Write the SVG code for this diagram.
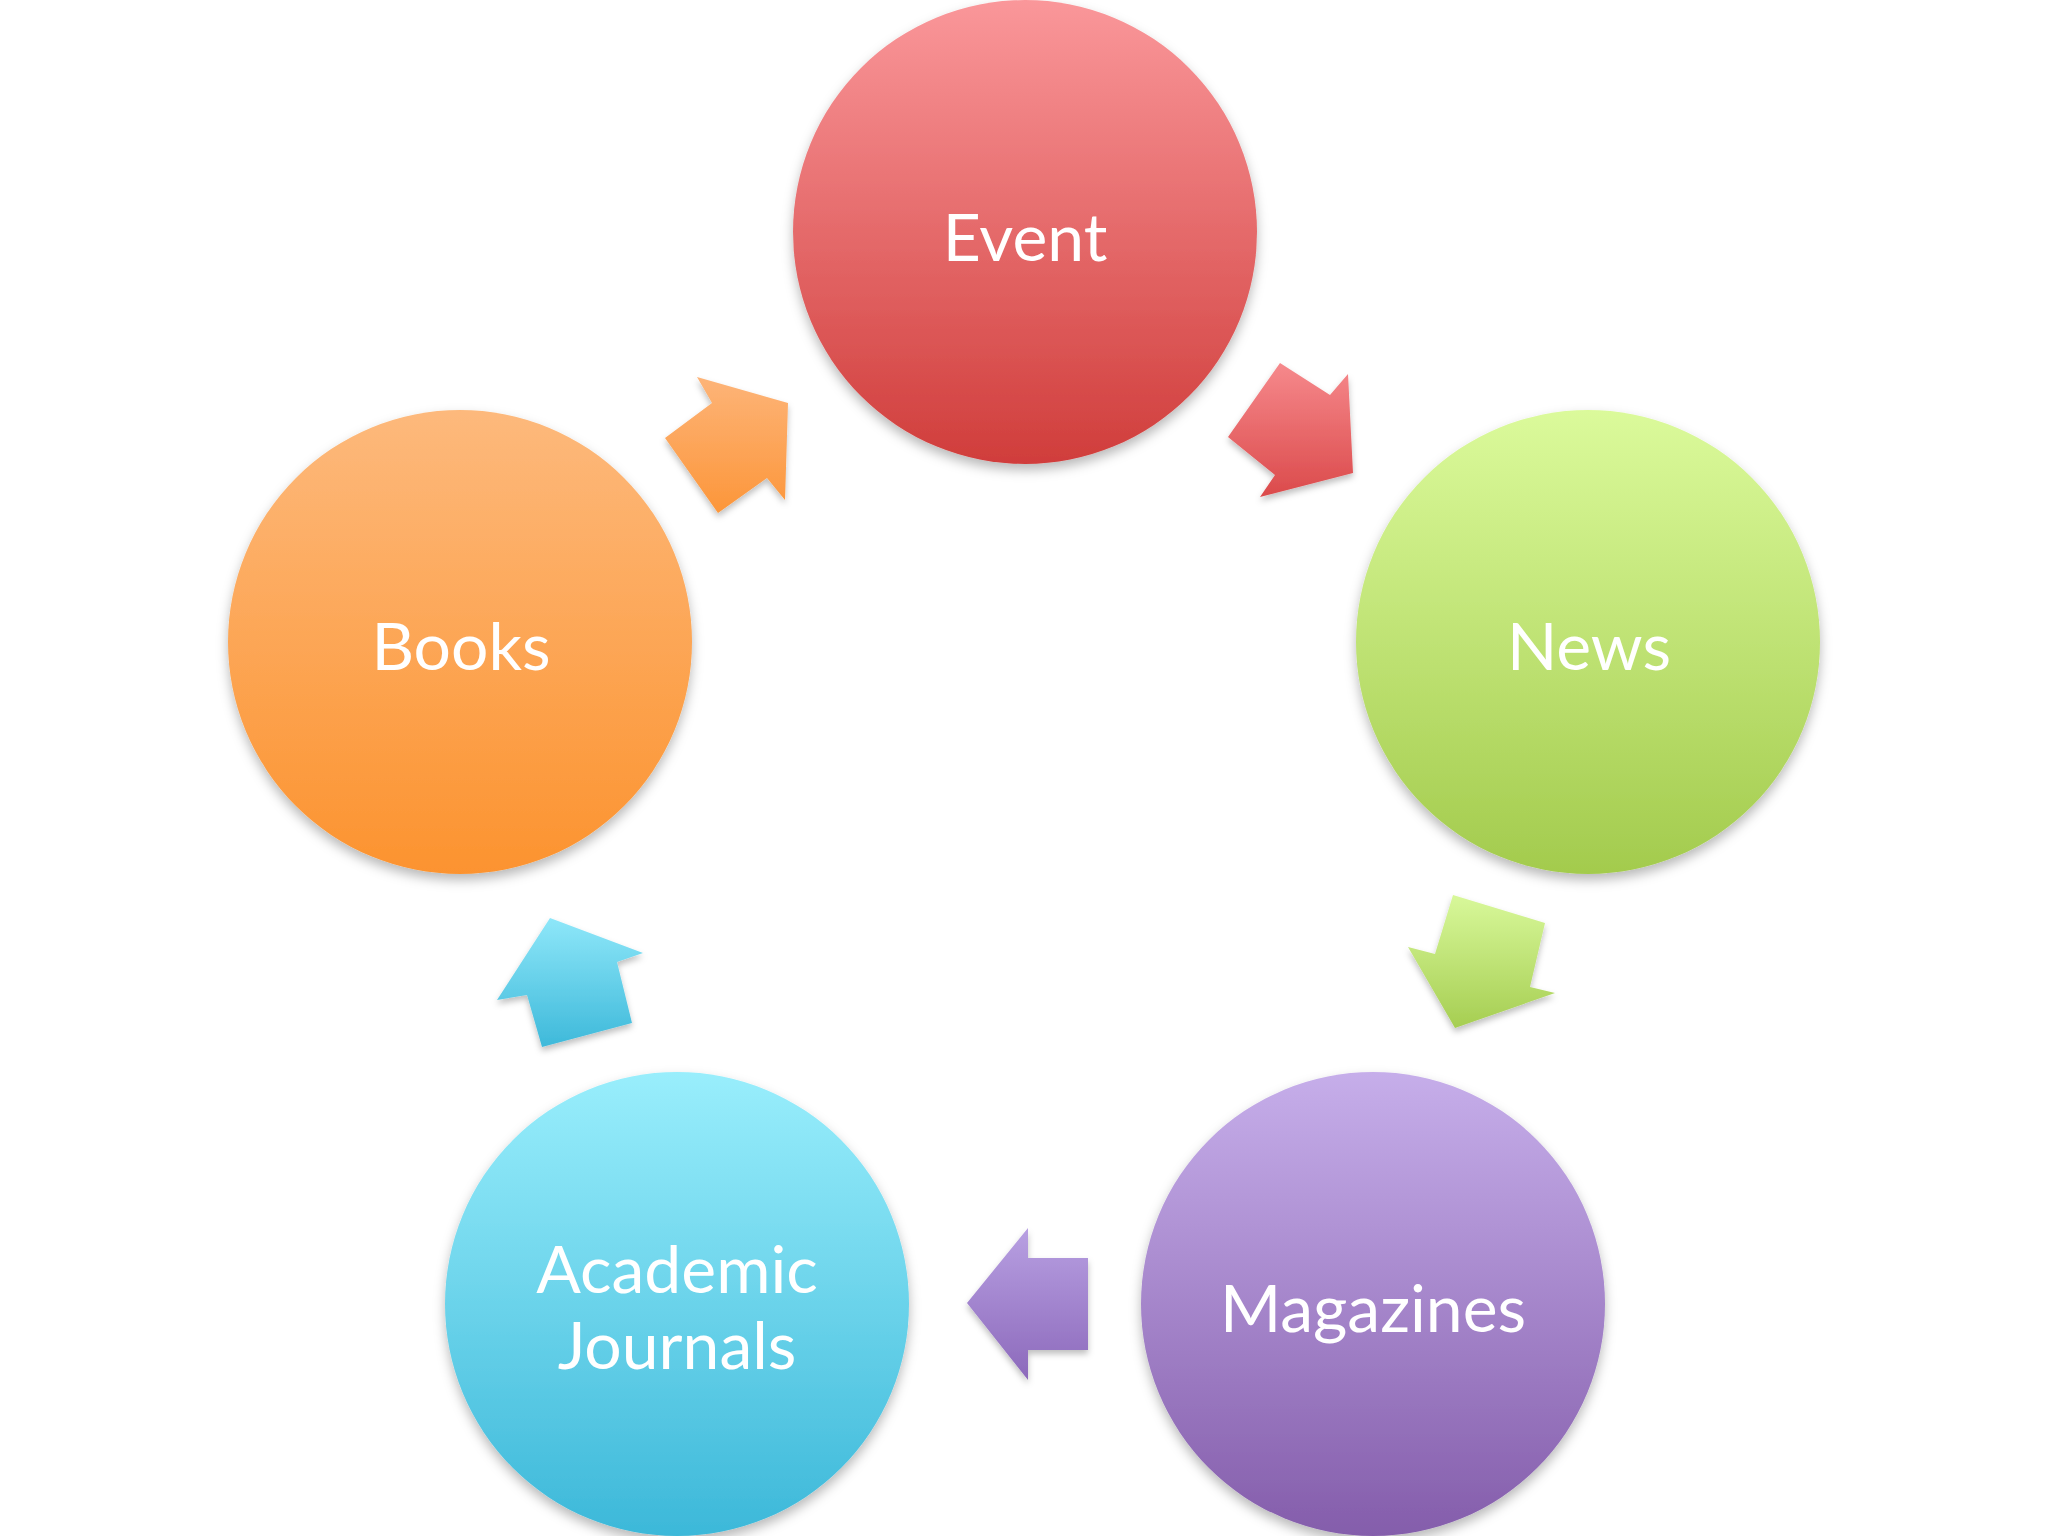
<svg xmlns="http://www.w3.org/2000/svg" width="2048" height="1536" viewBox="0 0 2048 1536">
<defs>
<style>
.lbl{font-family:Lato,"Open Sans","Liberation Sans",sans-serif;font-size:66px;fill:#ffffff;text-anchor:middle}
</style>
<filter id="sh" x="-20%" y="-20%" width="140%" height="140%">
<feDropShadow dx="0" dy="6" stdDeviation="6" flood-color="#000" flood-opacity="0.28"/>
</filter>
<filter id="sha" x="-20%" y="-20%" width="140%" height="140%">
<feDropShadow dx="0" dy="4" stdDeviation="3" flood-color="#000" flood-opacity="0.25"/>
</filter>
<linearGradient id="gRed" x1="0" y1="0" x2="0" y2="1"><stop offset="0" stop-color="#FA979A"/><stop offset="1" stop-color="#D03D3B"/></linearGradient>
<linearGradient id="gOr" x1="0" y1="0" x2="0" y2="1"><stop offset="0" stop-color="#FDB97C"/><stop offset="1" stop-color="#FC932F"/></linearGradient>
<linearGradient id="gGr" x1="0" y1="0" x2="0" y2="1"><stop offset="0" stop-color="#DBFA9B"/><stop offset="1" stop-color="#A3CB4D"/></linearGradient>
<linearGradient id="gPu" x1="0" y1="0" x2="0" y2="1"><stop offset="0" stop-color="#C6AEEA"/><stop offset="1" stop-color="#845DAB"/></linearGradient>
<linearGradient id="gCy" x1="0" y1="0" x2="0" y2="1"><stop offset="0" stop-color="#99EEFC"/><stop offset="1" stop-color="#3CB8D9"/></linearGradient>
<linearGradient id="aRed" x1="0" y1="0" x2="0" y2="1"><stop offset="0" stop-color="#F6898C"/><stop offset="1" stop-color="#DB4A4B"/></linearGradient>
<linearGradient id="aOr" x1="0" y1="0" x2="0" y2="1"><stop offset="0" stop-color="#FDB478"/><stop offset="1" stop-color="#FC963A"/></linearGradient>
<linearGradient id="aGr" x1="0" y1="0" x2="0" y2="1"><stop offset="0" stop-color="#D8F89A"/><stop offset="1" stop-color="#A6CE52"/></linearGradient>
<linearGradient id="aPu" x1="0" y1="0" x2="0" y2="1"><stop offset="0" stop-color="#B8A0E2"/><stop offset="1" stop-color="#8C69BB"/></linearGradient>
<linearGradient id="aCy" x1="0" y1="0" x2="0" y2="1"><stop offset="0" stop-color="#8EE7F9"/><stop offset="1" stop-color="#3EB9DA"/></linearGradient>
</defs>
<rect width="2048" height="1536" fill="#ffffff"/>
<g id="connectors" filter="url(#sha)">
<polygon points="697,377 712,403 665,438 718,513 767,478 785,500 788,403" fill="url(#aOr)"/>
<polygon points="1280,363 1330,395 1348,374 1353,473 1260,497 1275,475 1228,437" fill="url(#aRed)"/>
<polygon points="1453,895 1545,923 1530,987 1555,993 1455,1028 1408,947 1435,954" fill="url(#aGr)"/>
<polygon points="1028,1228 1028,1258 1088,1258 1088,1350 1028,1350 1028,1380 967,1303" fill="url(#aPu)"/>
<polygon points="550,918 643,953 617,962 632,1023 542,1047 527,995 497,1000" fill="url(#aCy)"/>
</g>
<g id="node-event">
<circle cx="1025" cy="232" r="232" fill="url(#gRed)" filter="url(#sh)"/>
<text class="lbl" x="1025" y="261">Event</text>
</g>
<g id="node-news">
<circle cx="1588" cy="642" r="232" fill="url(#gGr)" filter="url(#sh)"/>
<text class="lbl" x="1589" y="670">News</text>
</g>
<g id="node-magazines">
<circle cx="1373" cy="1304" r="232" fill="url(#gPu)" filter="url(#sh)"/>
<text class="lbl" x="1373" y="1332">Magazines</text>
</g>
<g id="node-academic">
<circle cx="677" cy="1304" r="232" fill="url(#gCy)" filter="url(#sh)"/>
<text class="lbl" x="677" y="1293">Academic</text>
<text class="lbl" x="677" y="1369">Journals</text>
</g>
<g id="node-books">
<circle cx="460" cy="642" r="232" fill="url(#gOr)" filter="url(#sh)"/>
<text class="lbl" x="461" y="670">Books</text>
</g>
</svg>
